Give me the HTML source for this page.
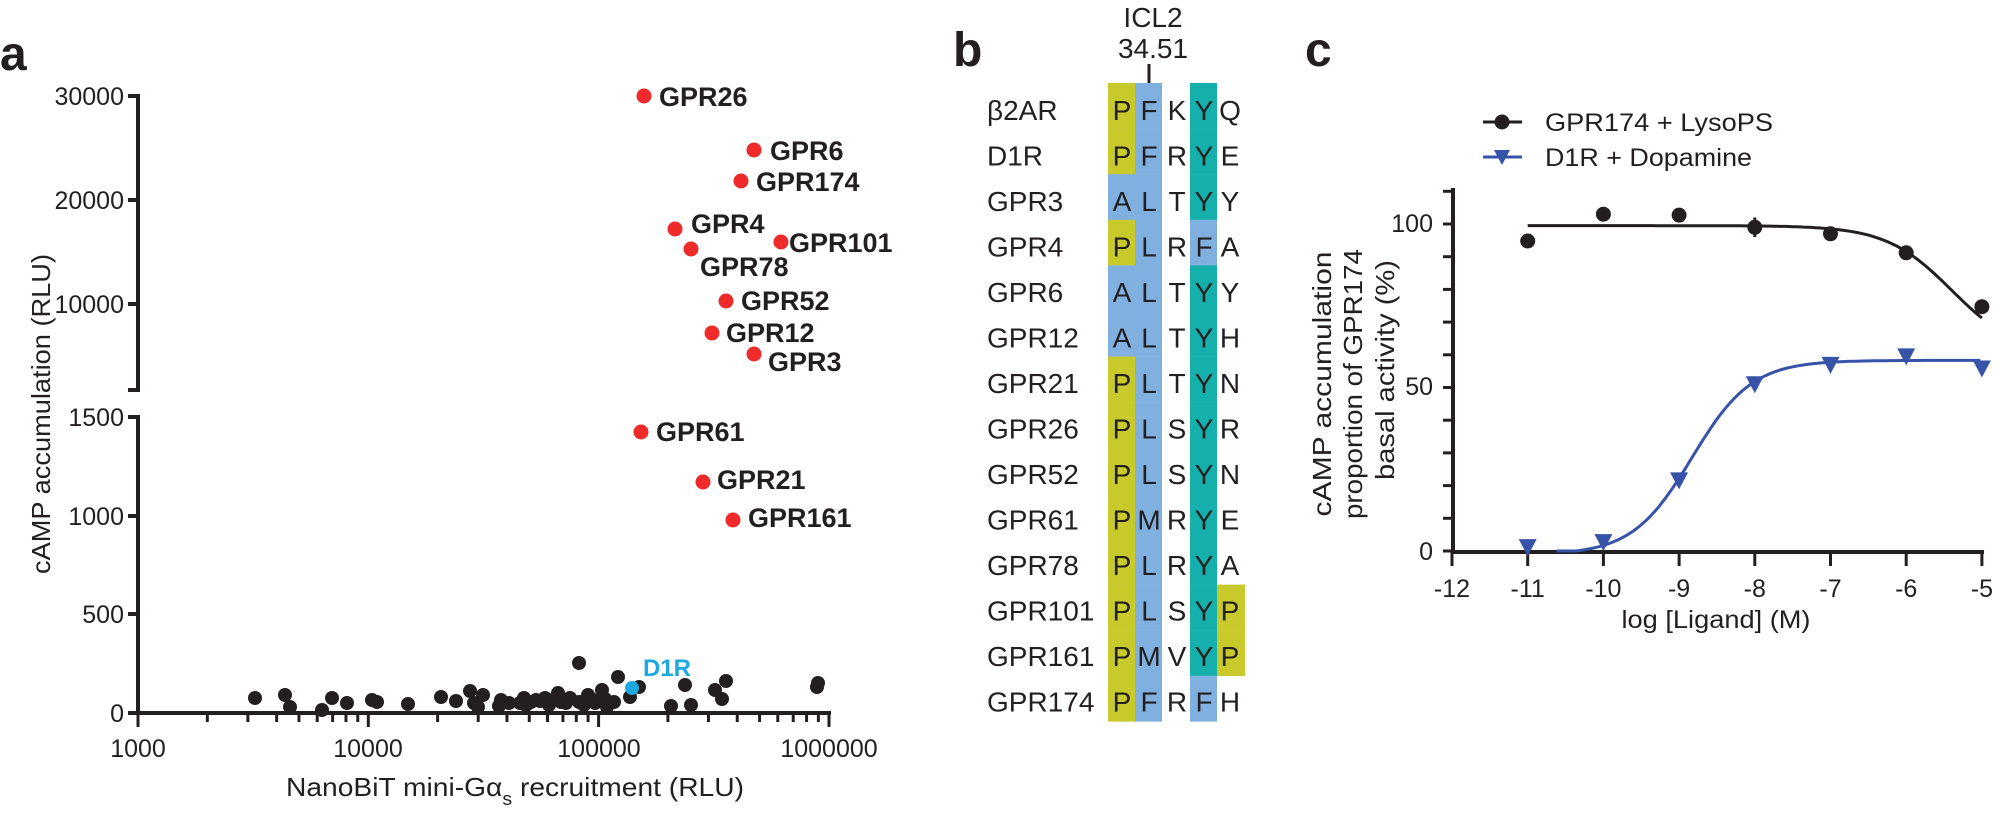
<!DOCTYPE html>
<html><head><meta charset="utf-8"><style>
html,body{margin:0;padding:0;background:#fff;}
svg{display:block;font-family:"Liberation Sans",Arial,sans-serif;}
</style></head><body>
<svg id="s" width="2000" height="814" viewBox="0 0 2000 814" xmlns="http://www.w3.org/2000/svg">
<g fill="#231f20">
<text x="0" y="70" font-size="48" font-weight="bold">a</text>
<text x="953" y="66" font-size="48" font-weight="bold">b</text>
<text x="1305" y="66" font-size="48" font-weight="bold">c</text>
</g>
<!-- panel a axes -->
<g stroke="#231f20" stroke-width="4" fill="none">
<line x1="138" y1="94" x2="138" y2="390"/>
<line x1="128" y1="390" x2="140" y2="390"/>
<line x1="128" y1="96" x2="138" y2="96"/>
<line x1="128" y1="200" x2="138" y2="200"/>
<line x1="128" y1="304" x2="138" y2="304"/>
<line x1="138" y1="417" x2="138" y2="713"/>
<line x1="128" y1="417" x2="140" y2="417"/>
<line x1="128" y1="516" x2="138" y2="516"/>
<line x1="128" y1="614" x2="138" y2="614"/>
<line x1="128" y1="713" x2="138" y2="713"/>
<line x1="136" y1="713" x2="831" y2="713"/>
</g>
<g id="aticks" stroke="#231f20" stroke-width="3"></g>
<g font-size="25" fill="#231f20" text-anchor="end">
<text x="124" y="105">30000</text>
<text x="124" y="209">20000</text>
<text x="124" y="313">10000</text>
<text x="124" y="426">1500</text>
<text x="124" y="525">1000</text>
<text x="124" y="623">500</text>
<text x="124" y="722">0</text>
</g>
<g font-size="25" fill="#231f20" text-anchor="middle">
<text x="138" y="757">1000</text>
<text x="368" y="757">10000</text>
<text x="599" y="757">100000</text>
<text x="829" y="757">1000000</text>
</g>
<text x="286" y="796" font-size="26" fill="#231f20" textLength="458" lengthAdjust="spacingAndGlyphs">NanoBiT mini-Gα<tspan font-size="18" dy="9">s</tspan><tspan dy="-9"> recruitment (RLU)</tspan></text>
<text transform="translate(50,414) rotate(-90)" font-size="26" fill="#231f20" text-anchor="middle" textLength="320" lengthAdjust="spacingAndGlyphs">cAMP accumulation (RLU)</text>
<g id="blk" fill="#231f20"></g>
<circle cx="632" cy="688" r="7" fill="#1ea8e0"/>
<text x="643" y="676" font-size="24" font-weight="bold" fill="#1ea8e0">D1R</text>
<g id="red" fill="#ee2a2a"></g>
<g id="redl" font-size="27" font-weight="bold" fill="#231f20"></g>
<!-- panel b -->
<text x="1153" y="27" font-size="28" fill="#231f20" text-anchor="middle">ICL2</text>
<text x="1153" y="58" font-size="28" fill="#231f20" text-anchor="middle">34.51</text>
<line x1="1149" y1="64" x2="1149" y2="83" stroke="#231f20" stroke-width="3"/>
<g id="bg"></g>
<g id="btxt" font-size="28" fill="#231f20"></g>
<!-- panel c -->
<g stroke="#231f20" stroke-width="4" fill="none">
<line x1="1453" y1="188" x2="1453" y2="553"/>
<line x1="1451" y1="552" x2="1984" y2="552"/>
</g>
<g id="cticks" stroke="#231f20" stroke-width="3"></g>
<g font-size="25" fill="#231f20" text-anchor="end">
<text x="1433" y="232">100</text>
<text x="1433" y="395">50</text>
<text x="1433" y="560">0</text>
</g>
<g id="cxl" font-size="25" fill="#231f20" text-anchor="middle"></g>
<text x="1716" y="628" font-size="25" fill="#231f20" text-anchor="middle" textLength="189" lengthAdjust="spacingAndGlyphs">log [Ligand] (M)</text>
<g font-size="26" fill="#231f20" text-anchor="middle">
<text transform="translate(1331,384) rotate(-90)" textLength="265" lengthAdjust="spacingAndGlyphs">cAMP accumulation</text>
<text transform="translate(1362,384) rotate(-90)" textLength="270" lengthAdjust="spacingAndGlyphs">proportion of GPR174</text>
<text transform="translate(1394,370) rotate(-90)" textLength="220" lengthAdjust="spacingAndGlyphs">basal activity (%)</text>
</g>
<path id="bc" fill="none" stroke="#231f20" stroke-width="3"/>
<path id="uc" fill="none" stroke="#3653a8" stroke-width="3"/>
<g id="cpts"></g>
<line x1="1483" y1="122" x2="1522" y2="122" stroke="#231f20" stroke-width="3"/>
<circle cx="1502" cy="122" r="7.5" fill="#231f20"/>
<line x1="1483" y1="157" x2="1522" y2="157" stroke="#3653a8" stroke-width="3"/>
<path d="M1494,150 L1510,150 L1502,165 Z" fill="#3653a8"/>
<text x="1545" y="131" font-size="25" fill="#231f20" textLength="228" lengthAdjust="spacingAndGlyphs">GPR174 + LysoPS</text>
<text x="1545" y="166" font-size="25" fill="#231f20" textLength="207" lengthAdjust="spacingAndGlyphs">D1R + Dopamine</text>
</svg>
<script>
var NS="http://www.w3.org/2000/svg";
function el(p,t,a,txt){var e=document.createElementNS(NS,t);for(var k in a)e.setAttribute(k,a[k]);if(txt)e.textContent=txt;document.getElementById(p).appendChild(e);return e;}
for(var d=0;d<3;d++){for(var m=1;m<10;m++){var x=138+230.3*(d+Math.log10(m));el("aticks","line",{x1:x,y1:713,x2:x,y2:m==1?727:722});}}
el("aticks","line",{x1:829,y1:713,x2:829,y2:727});
var blk=[[255,698],[285,695],[290,707],[322,710],[332,698],[347,703],[372,700],[377,702],[408,704],[441,697],[456,701],[470,691],[474,703],[483,695],[478,707],[501,700],[499,706],[509,703],[524,698],[526,705],[536,700],[545,698],[549,705],[558,693],[561,702],[570,698],[579,702],[588,695],[579,663],[584,705],[595,703],[602,690],[607,707],[614,702],[618,677],[630,697],[639,687],[671,706],[685,685],[691,705],[715,690],[722,699],[726,681],[817,687],[818,683],[540,701],[531,702],[593,700],[605,699],[520,703],[552,700],[566,703]];
blk.forEach(function(p){el("blk","circle",{cx:p[0],cy:p[1],r:7});});
var red=[[644,96,"GPR26",659,106],[754,150,"GPR6",770,160],[741,181,"GPR174",756,191],[675,229,"GPR4",691,233],[781,242,"GPR101",789,252],[691,249,"GPR78",700,276],[726,301,"GPR52",741,310],[712,333,"GPR12",726,342],[754,354,"GPR3",768,371],[641,432,"GPR61",656,441],[703,482,"GPR21",717,489],[733,520,"GPR161",748,527]];
red.forEach(function(r){el("red","circle",{cx:r[0],cy:r[1],r:7.5});el("redl","text",{x:r[3],y:r[4]},r[2]);});
var Y="#c8c92a",B="#80b0e0",T="#16b0ac";
var rows=[["β2AR","PFKYQ",Y,T,0],["D1R","PFRYE",Y,T,0],["GPR3","ALTYY",B,T,0],["GPR4","PLRFA",Y,B,0],["GPR6","ALTYY",B,T,0],["GPR12","ALTYH",B,T,0],["GPR21","PLTYN",Y,T,0],["GPR26","PLSYR",Y,T,0],["GPR52","PLSYN",Y,T,0],["GPR61","PMRYE",Y,T,0],["GPR78","PLRYA",Y,T,0],["GPR101","PLSYP",Y,T,1],["GPR161","PMVYP",Y,T,1],["GPR174","PFRFH",Y,B,0]];
var cx=[1122,1149,1177,1204,1230];
rows.forEach(function(r,i){var top=83+i*45.6,h=45.8;
el("bg","rect",{x:1108,y:top,width:27,height:h,fill:r[2]});
el("bg","rect",{x:1135,y:top,width:27,height:h,fill:B});
el("bg","rect",{x:1190,y:top,width:27,height:h,fill:r[3]});
if(r[4])el("bg","rect",{x:1217,y:top,width:28,height:h,fill:Y});
var by=120+45.5*i;
el("btxt","text",{x:987,y:by},r[0]);
for(var j=0;j<5;j++)el("btxt","text",{x:cx[j],y:by,"text-anchor":"middle"},r[1][j]);
});
function X(v){return 1452+(v+12)*75.7;}function Yc(p){return 551-p*3.27;}
for(var v=-12;v<=-5;v++){el("cticks","line",{x1:X(v),y1:552,x2:X(v),y2:566});el("cxl","text",{x:X(v),y:597},String(v));}
for(var p=0;p<=110;p+=10){el("cticks","line",{x1:1443,y1:Yc(p),x2:1453,y2:Yc(p)});}
var d1="",d2="";
for(var x=-11;x<=-4.999;x+=0.05){var y=60+39.5/(1+Math.pow(10,(x+5.4)));d1+=(d1?"L":"M")+X(x).toFixed(1)+","+Yc(y).toFixed(1);}
document.getElementById("bc").setAttribute("d",d1);
for(var x=-10.62;x<=-4.999;x+=0.05){var y=59.5/(1+Math.pow(10,(-8.83-x)*1.1))-1.2;if(y<0)y=0;d2+=(d2?"L":"M")+X(x).toFixed(1)+","+Yc(y).toFixed(1);}
document.getElementById("uc").setAttribute("d",d2);
var bp=[[-11,94.8],[-10,103],[-9,102.7],[-8,99],[-7,97],[-6,91.2],[-5,74.7]];
bp.forEach(function(q){el("cpts","circle",{cx:X(q[0]),cy:Yc(q[1]),r:7.5,fill:"#231f20"});});
el("cpts","line",{x1:X(-8),y1:Yc(96),x2:X(-8),y2:Yc(102),stroke:"#231f20","stroke-width":3});
var up=[[-11,1.2],[-10,2.7],[-9,21.6],[-8,51],[-7,56.9],[-6,59.5],[-5,55.8]];
up.forEach(function(q){var x=X(q[0]),y=Yc(q[1]);el("cpts","path",{d:"M"+(x-9)+","+(y-8)+"L"+(x+9)+","+(y-8)+"L"+x+","+(y+9)+"Z",fill:"#3653a8"});});
</script>
</body></html>
